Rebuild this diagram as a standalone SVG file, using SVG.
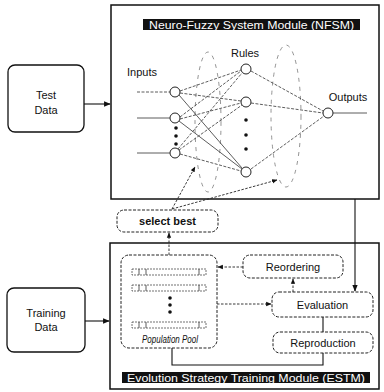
<svg xmlns="http://www.w3.org/2000/svg" width="384" height="392" viewBox="0 0 384 392">
<style>
.frame{fill:#fff;stroke:#111;stroke-width:1.5}
.sbox{fill:#fff;stroke:#111;stroke-width:1.3}
.dbox{fill:#fff;stroke:#222;stroke-width:1;stroke-dasharray:3 1.5}
.lbl{font-family:"Liberation Sans",Arial,sans-serif;font-size:11px;fill:#111}
.b{font-weight:bold}
.ttl{font-family:"Liberation Sans",Arial,sans-serif;font-size:11px;fill:#fff}
.node{fill:#fff;stroke:#222;stroke-width:1}
.w{stroke:#333;stroke-width:0.8;fill:none}
.wd{stroke:#333;stroke-width:0.8;fill:none;stroke-dasharray:3 1.5}
.sl{stroke:#111;stroke-width:1.1;fill:none}
.dl{stroke:#222;stroke-width:0.9;fill:none;stroke-dasharray:2.5 1.5}
.ell{fill:none;stroke:#666;stroke-width:0.7;stroke-dasharray:4 5}
.bar{fill:#fff;stroke:#333;stroke-width:0.7;stroke-dasharray:2 1}
.dot{fill:#111}
</style>
<defs>
<marker id="ah" viewBox="0 0 10 10" refX="9" refY="5" markerWidth="6" markerHeight="6" orient="auto">
<path d="M0,1 L10,5 L0,9 z" fill="#111"/>
</marker>
</defs>

<g id="nfsm">
<rect class="frame" x="111" y="5" width="268" height="194"/>
<rect x="143" y="19" width="217" height="11" fill="#111"/>
<text class="ttl" x="251.5" y="28.5" text-anchor="middle" textLength="205" lengthAdjust="spacingAndGlyphs">Neuro-Fuzzy System Module (NFSM)</text>
<text class="lbl" x="127" y="76">Inputs</text>
<text class="lbl" x="245" y="57" text-anchor="middle">Rules</text>
<text class="lbl" x="348" y="101" text-anchor="middle">Outputs</text>
<ellipse class="ell" cx="208" cy="122" rx="13" ry="70"/>
<ellipse class="ell" cx="286" cy="116" rx="15" ry="71"/>
</g>

<g id="estm">
<rect class="frame" x="110" y="243" width="269" height="146"/>
<rect x="122" y="372" width="248" height="11" fill="#111"/>
<text class="ttl" x="246" y="381.5" text-anchor="middle" textLength="238" lengthAdjust="spacingAndGlyphs">Evolution Strategy Training Module (ESTM)</text>
</g>

<g id="connectors">
<line class="wd" x1="137" y1="92" x2="170" y2="92"/>
<line class="w" x1="137" y1="118" x2="170" y2="118"/>
<line class="w" x1="137" y1="153" x2="170" y2="153"/>
<line class="wd" x1="180" y1="91" x2="241" y2="70"/>
<line class="wd" x1="180" y1="93" x2="241" y2="101"/>
<line class="w" x1="179" y1="95" x2="242" y2="168"/>
<line class="wd" x1="180" y1="117" x2="241" y2="71"/>
<line class="wd" x1="180" y1="119" x2="241" y2="103"/>
<line class="w" x1="179" y1="121" x2="242" y2="169"/>
<line class="wd" x1="178" y1="149" x2="242" y2="73"/>
<line class="wd" x1="179" y1="150" x2="242" y2="105"/>
<line class="wd" x1="180" y1="154" x2="241" y2="171"/>
<line class="wd" x1="251" y1="71" x2="323" y2="111"/>
<line class="wd" x1="251" y1="103" x2="323" y2="113"/>
<line class="wd" x1="251" y1="169" x2="324" y2="116"/>
<line class="w" x1="333" y1="113" x2="367" y2="113"/>
<line class="dl" x1="172" y1="209" x2="195" y2="167" marker-end="url(#ah)"/>
<line class="dl" x1="172" y1="209" x2="277" y2="180" marker-end="url(#ah)"/>
<line class="sl" x1="84" y1="104" x2="110" y2="104" marker-end="url(#ah)"/>
<line class="sl" x1="85" y1="321" x2="109" y2="321" marker-end="url(#ah)"/>
<line class="dl" x1="169" y1="255" x2="169" y2="233" marker-end="url(#ah)"/>
<line class="sl" x1="355" y1="199" x2="355" y2="291" marker-end="url(#ah)"/>
<line class="dl" x1="243" y1="267" x2="218" y2="267" marker-end="url(#ah)"/>
<line class="dl" x1="293" y1="292" x2="293" y2="279" marker-end="url(#ah)"/>
<line class="dl" x1="217" y1="304" x2="271" y2="304" marker-end="url(#ah)"/>
<line class="sl" x1="323" y1="317" x2="323" y2="332"/>
<polyline class="sl" points="323,353 323,365 172,365 172,348"/>
</g>

<g id="input-nodes">
<circle class="node" cx="175" cy="92" r="5"/>
<circle class="node" cx="175" cy="118" r="5"/>
<circle class="node" cx="175" cy="153" r="5"/>
<circle class="dot" cx="176" cy="128" r="1.8"/>
<circle class="dot" cx="176" cy="136" r="1.8"/>
<circle class="dot" cx="176" cy="144" r="1.8"/>
</g>

<g id="rule-nodes">
<circle class="node" cx="246" cy="69" r="5"/>
<circle class="node" cx="246" cy="102" r="5"/>
<circle class="node" cx="246" cy="172" r="5"/>
<circle class="dot" cx="246" cy="120" r="1.8"/>
<circle class="dot" cx="246" cy="135" r="1.8"/>
<circle class="dot" cx="246" cy="149" r="1.8"/>
</g>

<g id="output-node">
<circle class="node" cx="328" cy="113" r="5"/>
</g>

<g id="test-data">
<rect class="sbox" x="8" y="65" width="76" height="67" rx="7"/>
<text class="lbl" x="46" y="99" text-anchor="middle">Test</text>
<text class="lbl" x="46" y="114" text-anchor="middle">Data</text>
</g>

<g id="training-data">
<rect class="sbox" x="7" y="288" width="78" height="64" rx="7"/>
<text class="lbl" x="46" y="317" text-anchor="middle">Training</text>
<text class="lbl" x="46" y="331" text-anchor="middle">Data</text>
</g>

<g id="select-best">
<rect class="dbox" x="117" y="210" width="101" height="22" rx="7"/>
<text class="lbl b" x="167.5" y="225" text-anchor="middle">select best</text>
</g>

<g id="population-pool">
<rect class="dbox" x="121" y="255" width="96" height="93" rx="8"/>
<rect class="bar" x="132" y="269" width="74" height="6"/>
<line class="w" x1="139" y1="269" x2="139" y2="275"/><line class="w" x1="146" y1="269" x2="146" y2="275"/><line class="w" x1="199" y1="269" x2="199" y2="275"/>
<rect class="bar" x="132" y="285" width="74" height="6"/>
<line class="w" x1="139" y1="285" x2="139" y2="291"/><line class="w" x1="146" y1="285" x2="146" y2="291"/><line class="w" x1="199" y1="285" x2="199" y2="291"/>
<circle class="dot" cx="170" cy="298" r="1.8"/>
<circle class="dot" cx="170" cy="305" r="1.8"/>
<circle class="dot" cx="170" cy="312" r="1.8"/>
<rect class="bar" x="132" y="322" width="74" height="6"/>
<line class="w" x1="139" y1="322" x2="139" y2="328"/><line class="w" x1="146" y1="322" x2="146" y2="328"/><line class="w" x1="199" y1="322" x2="199" y2="328"/>
<text class="lbl" x="170" y="343" text-anchor="middle" font-size="7" font-style="italic" textLength="56" lengthAdjust="spacingAndGlyphs">Population Pool</text>
</g>

<g id="reordering">
<rect class="dbox" x="243" y="255" width="100" height="23" rx="7"/>
<text class="lbl" x="293" y="271" text-anchor="middle">Reordering</text>
</g>

<g id="evaluation">
<rect class="dbox" x="272" y="292" width="101" height="25" rx="7"/>
<text class="lbl" x="322.5" y="308.5" text-anchor="middle">Evaluation</text>
</g>

<g id="reproduction">
<rect class="dbox" x="273" y="332" width="100" height="21" rx="7"/>
<text class="lbl" x="323" y="346.5" text-anchor="middle">Reproduction</text>
</g>
</svg>
